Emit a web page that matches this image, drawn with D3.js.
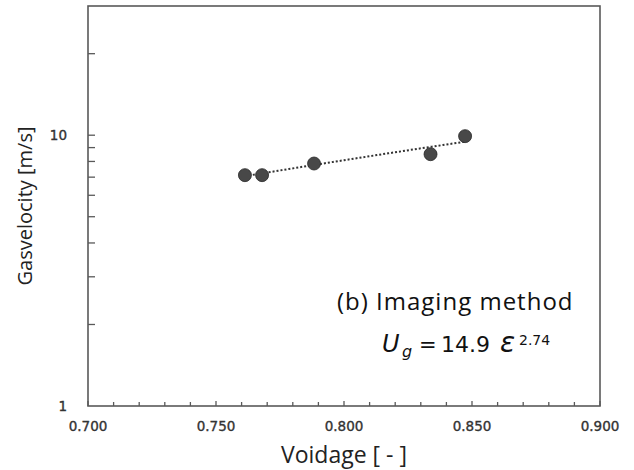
<!DOCTYPE html>
<html>
<head>
<meta charset="utf-8">
<script src="https://cdn.jsdelivr.net/npm/d3@7"></script>
<style>
  html, body { margin: 0; padding: 0; background: #fff; }
  svg { display: block; }
</style>
</head>
<body>
<svg id="chart" width="634" height="470"></svg>
<script>
// ---- data ----
const voidage = [0.7613, 0.7680, 0.7883, 0.8338, 0.8473];
const gasVelocity = [7.12, 7.12, 7.86, 8.51, 9.92];
const fitCoef = 14.9;
const fitExp = 2.74;
const fitRange = [0.7613, 0.8473];
const xTickLabels = ["0.700", "0.750", "0.800", "0.850", "0.900"];
const yTickLabels = ["1", "10"];
const xDomain = [0.700, 0.900];
const yDomain = [1, 30];

// ---- layout ----
const W = 634, H = 470;
const plot = { left: 88, right: 600, top: 6, bottom: 406 };
const axisColor = "#595959";
const titleFont = "'Open Sans', 'Noto Sans', sans-serif";
const numFont = "'DejaVu Sans', Verdana, sans-serif";

const svg = d3.select("#chart");
const x = d3.scaleLinear().domain(xDomain).range([plot.left, plot.right]);
const y = d3.scaleLog().domain(yDomain).range([plot.bottom, plot.top]);

// x ticks (inside, minor every 0.01, major every 0.05)
const xMinor = d3.range(0, 21).map(i => xDomain[0] + i * 0.01);
svg.append("g").selectAll("line").data(xMinor).join("line")
  .attr("x1", d => x(d)).attr("x2", d => x(d))
  .attr("y1", plot.bottom)
  .attr("y2", (d, i) => plot.bottom - (i % 5 === 0 ? 5 : 4))
  .attr("stroke", axisColor).attr("stroke-width", 1.3);

// y ticks (inside, log minor ticks)
const yTicks = y.ticks().filter(d => d > yDomain[0] && d < yDomain[1]);
svg.append("g").selectAll("line").data(yTicks).join("line")
  .attr("x1", plot.left).attr("x2", plot.left + 7)
  .attr("y1", d => y(d)).attr("y2", d => y(d))
  .attr("stroke", axisColor).attr("stroke-width", 1.3);

// frame
svg.append("rect")
  .attr("x", plot.left).attr("y", plot.top)
  .attr("width", plot.right - plot.left).attr("height", plot.bottom - plot.top)
  .attr("fill", "none").attr("stroke", axisColor).attr("stroke-width", 1.6);

// x tick labels
svg.append("g").selectAll("text").data(xTickLabels).join("text")
  .attr("x", d => x(+d)).attr("y", 431)
  .attr("text-anchor", "middle")
  .attr("font-family", numFont)
  .attr("font-size", 13.5)
  .attr("fill", "#333").attr("stroke", "#333").attr("stroke-width", 0.35)
  .text(d => d);

// y tick labels
svg.append("g").selectAll("text").data(yTickLabels).join("text")
  .attr("x", 67).attr("y", d => y(+d) + 5)
  .attr("text-anchor", "end")
  .attr("font-family", numFont)
  .attr("font-size", 13.5)
  .attr("fill", "#333").attr("stroke", "#333").attr("stroke-width", 0.35)
  .text(d => d);

// axis titles
svg.append("text")
  .attr("x", (plot.left + plot.right) / 2).attr("y", 463)
  .attr("text-anchor", "middle")
  .attr("font-family", titleFont)
  .attr("font-size", 23)
  .attr("fill", "#222")
  .text("Voidage [ - ]");

svg.append("text")
  .attr("transform", `translate(32,${(plot.top + plot.bottom) / 2}) rotate(-90)`)
  .attr("text-anchor", "middle")
  .attr("font-family", titleFont)
  .attr("font-size", 20)
  .attr("fill", "#222")
  .text("Gasvelocity [m/s]");

// trend line (power fit stated on chart)
const fitSamples = d3.range(0, 21).map(i => fitRange[0] + (fitRange[1] - fitRange[0]) * i / 20)
  .map(v => [v, fitCoef * Math.pow(v, fitExp)]);
svg.append("path")
  .datum(fitSamples)
  .attr("d", d3.line().x(d => x(d[0])).y(d => y(d[1])))
  .attr("fill", "none").attr("stroke", "#333").attr("stroke-width", 2)
  .attr("stroke-dasharray", "2,2");

// points
svg.append("g").selectAll("circle").data(voidage).join("circle")
  .attr("cx", d => x(d)).attr("cy", (d, i) => y(gasVelocity[i]))
  .attr("r", 6.5)
  .attr("fill", "#484848").attr("stroke", "#2a2a2a").attr("stroke-width", 0.8);

// annotation
svg.append("text")
  .attr("x", 337).attr("y", 310)
  .attr("font-family", titleFont)
  .attr("font-size", 24)
  .attr("letter-spacing", 1.0)
  .attr("fill", "#111")
  .text("(b) Imaging method");

const eq = svg.append("text")
  .attr("y", 352)
  .attr("font-family", numFont)
  .attr("font-size", 22)
  .attr("fill", "#111");
eq.append("tspan").attr("x", 382).attr("font-style", "italic").attr("font-size", 24).text("U");
eq.append("tspan").attr("x", 402).attr("dy", 5).attr("font-style", "italic").attr("font-size", 16).text("g");
eq.append("tspan").attr("x", 419).attr("dy", -5).attr("font-size", 21).text("=");
eq.append("tspan").attr("x", 441).text("14.9");
eq.append("tspan").attr("x", 500).attr("font-style", "italic").attr("font-size", 28).text("ε");
eq.append("tspan").attr("x", 519).attr("dy", -7).attr("font-size", 14).text("2.74");
</script>
</body>
</html>
